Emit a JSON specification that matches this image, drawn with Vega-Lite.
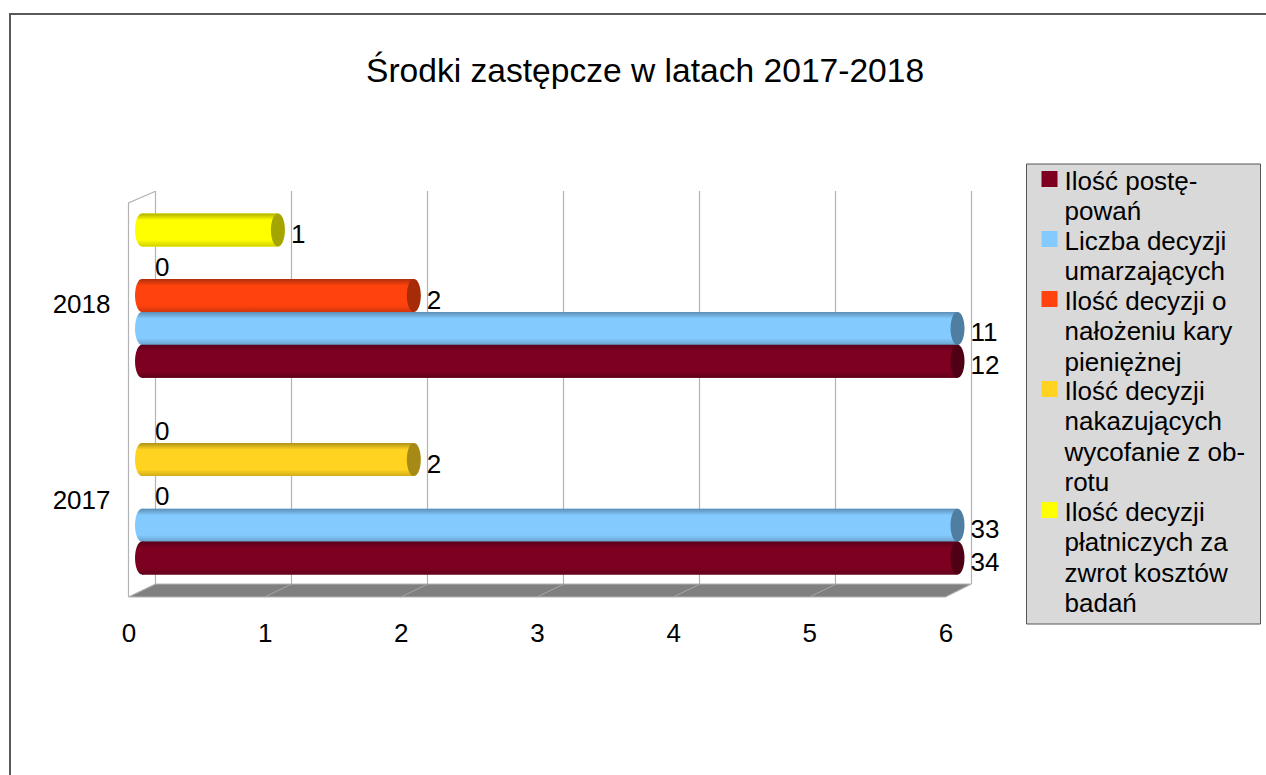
{
"$schema":"https://vega.github.io/schema/vega-lite/v6.json",
"width":1266,"height":775,"autosize":"none","padding":0,"background":"#ffffff",
"config":{"view":{"stroke":null},"font":"Liberation Sans"},
"title":{"text":"Środki zastępcze w latach 2017-2018","font":"Liberation Sans","fontSize":33.6,"fontWeight":"normal","color":"#000000","anchor":"start","frame":"group","dx":366,"dy":127,"baseline":"bottom"},
"data":{"values":[
{"rok":"2018","seria":"Ilość decyzji płatniczych za zwrot kosztów badań","wartosc":1,"slot":"2018-5"},
{"rok":"2018","seria":"Ilość decyzji nakazujących wycofanie z obrotu","wartosc":0,"slot":"2018-4"},
{"rok":"2018","seria":"Ilość decyzji o nałożeniu kary pieniężnej","wartosc":2,"slot":"2018-3"},
{"rok":"2018","seria":"Liczba decyzji umarzających","wartosc":11,"slot":"2018-2"},
{"rok":"2018","seria":"Ilość postępowań","wartosc":12,"slot":"2018-1"},
{"rok":"2017","seria":"Ilość decyzji płatniczych za zwrot kosztów badań","wartosc":0,"slot":"2017-5"},
{"rok":"2017","seria":"Ilość decyzji nakazujących wycofanie z obrotu","wartosc":2,"slot":"2017-4"},
{"rok":"2017","seria":"Ilość decyzji o nałożeniu kary pieniężnej","wartosc":0,"slot":"2017-3"},
{"rok":"2017","seria":"Liczba decyzji umarzających","wartosc":33,"slot":"2017-2"},
{"rok":"2017","seria":"Ilość postępowań","wartosc":34,"slot":"2017-1"}
]},
"resolve":{"scale":{"x":"independent","y":"independent","fill":"independent"},"axis":{"x":"independent","y":"independent"},"legend":{"fill":"independent"}},
"layer":[
{"data":{"values":[{"ramka":"wykres"}]},
 "mark":{"type":"rect","fill":"transparent","stroke":"#595959","strokeWidth":2},
 "encoding":{"x":{"datum":0,"type":"quantitative","scale":{"domain":[0,1],"range":[10,1400]},"axis":null},"x2":{"datum":1},
 "y":{"datum":0,"type":"quantitative","scale":{"domain":[0,1],"range":[14,900]},"axis":null},"y2":{"datum":1}}},
{"data":{"values":[{"ramka":"legenda"}]},
 "mark":{"type":"rect","fill":"#d9d9d9","stroke":"#555555","strokeWidth":1},
 "encoding":{"x":{"datum":0,"type":"quantitative","scale":{"domain":[0,1],"range":[1026.5,1260.5]},"axis":null},"x2":{"datum":1},
 "y":{"datum":0,"type":"quantitative","scale":{"domain":[0,1],"range":[164,624]},"axis":null},"y2":{"datum":1}}},
{"data":{"values":[{"v":0},{"v":1},{"v":2},{"v":3},{"v":4},{"v":5},{"v":6}]},
 "mark":{"type":"rule","stroke":"#b3b3b3","strokeWidth":1.2},
 "encoding":{"x":{"field":"v","type":"quantitative","scale":{"domain":[0,6],"range":[155.5,971.5]},"axis":null},
 "y":{"datum":0,"type":"quantitative","scale":{"domain":[0,1],"range":[584,191]},"axis":null},"y2":{"datum":1}}},
{"data":{"values":[{"v":0,"w":0},{"v":0,"w":1},{"v":0.198,"w":1.03}]},
 "mark":{"type":"line","stroke":"#b3b3b3","strokeWidth":1.2},
 "encoding":{"x":{"field":"v","type":"quantitative","scale":{"domain":[0,6],"range":[128.5,945.5]},
 "axis":{"orient":"bottom","offset":-155,"values":[0,1,2,3,4,5,6],"format":"d","domain":false,"ticks":false,"grid":false,"title":null,"labelFont":"Liberation Sans","labelFontSize":26,"labelColor":"#000000","labelPadding":0,"labelFlush":false,"labelOverlap":false,"labelBaseline":"top"}},
 "y":{"field":"w","type":"quantitative","scale":{"domain":[0,1],"range":[597,203]},"axis":null}}},
{"data":{"values":[{"v":0,"g":0,"d":0},{"v":0.198,"g":0.033,"d":0},{"v":6,"g":0.033,"d":0},{"v":6.19,"g":0.033,"d":0.033}]},
 "mark":{"type":"area","fill":"#808080","stroke":"#b3b3b3","strokeWidth":1.2},
 "encoding":{"x":{"field":"v","type":"quantitative","scale":{"domain":[0,6],"range":[128.5,945.5]},"axis":null},
 "y":{"field":"g","type":"quantitative","scale":{"domain":[0,1],"range":[597,203]},"axis":null},"y2":{"field":"d"}}},
{"data":{"values":[{"v":1,"k":1.198},{"v":2,"k":2.198},{"v":3,"k":3.198},{"v":4,"k":4.198},{"v":5,"k":5.198}]},
 "mark":{"type":"rule","stroke":"#a6a6a6","strokeWidth":1},
 "encoding":{"x":{"field":"v","type":"quantitative","scale":{"domain":[0,6],"range":[128.5,945.5]},"axis":null},"x2":{"field":"k"},
 "y":{"datum":0,"type":"quantitative","scale":{"domain":[0,1],"range":[597,203]},"axis":null},"y2":{"datum":0.033}}},
{"data":{"values":[{"rok":"2018"},{"rok":"2017"}]},
 "mark":{"type":"point","opacity":0},
 "encoding":{"y":{"field":"rok","type":"nominal","scale":{"type":"point","padding":0,"domain":["2018","2017"],"range":[304,500]},
 "axis":{"orient":"left","offset":-110,"domain":false,"ticks":false,"grid":false,"title":null,"labelFont":"Liberation Sans","labelFontSize":26,"labelColor":"#000000","labelPadding":0,"labelBaseline":"middle"}}}},
{"transform":[{"filter":"datum.wartosc>0"}],
 "mark":{"type":"bar","size":33},
 "encoding":{"x":{"field":"wartosc","type":"quantitative","stack":null,"scale":{"domain":[0,6],"range":[142,957.5],"clamp":true},"axis":null},
 "y":{"field":"slot","type":"nominal","scale":{"type":"point","padding":0,"domain":["2018-5","2018-4","2018-3","2018-2","2018-1","przerwa","2017-5","2017-4","2017-3","2017-2","2017-1"],"range":[230,558]},"axis":null},
 "fill":{"field":"seria","type":"nominal","scale":{"domain":["Ilość postępowań","Liczba decyzji umarzających","Ilość decyzji o nałożeniu kary pieniężnej","Ilość decyzji nakazujących wycofanie z obrotu","Ilość decyzji płatniczych za zwrot kosztów badań"],"range":["#7e0021","#83caff","#ff420e","#ffd320","#ffff00"]},
 "legend":{"orient":"none","legendX":1036.5,"legendY":166,"title":null,"padding":0,"rowPadding":-7,"symbolType":"square","symbolSize":256,"symbolStrokeWidth":0,"labelFont":"Liberation Sans","labelFontSize":26,"labelColor":"#000000","labelOffset":2,"labelLimit":400,"labelBaseline":"top",
 "labelExpr":"{'Ilość postępowań':['Ilość postę-','powań'],'Liczba decyzji umarzających':['Liczba decyzji','umarzających'],'Ilość decyzji o nałożeniu kary pieniężnej':['Ilość decyzji o','nałożeniu kary','pieniężnej'],'Ilość decyzji nakazujących wycofanie z obrotu':['Ilość decyzji','nakazujących','wycofanie z ob-','rotu'],'Ilość decyzji płatniczych za zwrot kosztów badań':['Ilość decyzji','płatniczych za','zwrot kosztów','badań']}[datum.label]",
 "encode":{"labels":{"update":{"lineHeight":{"value":30.4},"dy":{"value":-10}}}}}}}},
{"transform":[{"filter":"datum.wartosc>0 && datum.seria=='Ilość decyzji płatniczych za zwrot kosztów badań'"}],
 "encoding":{"y":{"field":"slot","type":"nominal","scale":{"type":"point","padding":0,"domain":["2018-5","2018-4","2018-3","2018-2","2018-1","przerwa","2017-5","2017-4","2017-3","2017-2","2017-1"],"range":[230,558]},"axis":null}},
 "layer":[
 {"mark":{"type":"bar","size":33,"fill":{"gradient":"linear","x1":0,"y1":0,"x2":0,"y2":1,"stops":[{"offset":0,"color":"#b0b000"},{"offset":0.2,"color":"#ffff00"},{"offset":0.8,"color":"#ffff00"},{"offset":1,"color":"#d0d000"}]}},
  "encoding":{"x":{"field":"wartosc","type":"quantitative","stack":null,"scale":{"domain":[0,6],"range":[142,957.5],"clamp":true},"axis":null}}},
 {"mark":{"type":"point","filled":true,"opacity":1,"size":1089,"shape":"M0,-1A0.424,1,0,1,1,0,1A0.424,1,0,1,1,0,-1Z","fill":{"gradient":"linear","x1":0,"y1":0,"x2":0,"y2":1,"stops":[{"offset":0,"color":"#b0b000"},{"offset":0.2,"color":"#ffff00"},{"offset":0.8,"color":"#ffff00"},{"offset":1,"color":"#d0d000"}]}},
  "encoding":{"x":{"datum":0,"type":"quantitative","scale":{"domain":[0,6],"range":[142,957.5],"clamp":true},"axis":null}}}
 ]},
{"transform":[{"filter":"datum.wartosc>0 && datum.seria=='Ilość decyzji nakazujących wycofanie z obrotu'"}],
 "encoding":{"y":{"field":"slot","type":"nominal","scale":{"type":"point","padding":0,"domain":["2018-5","2018-4","2018-3","2018-2","2018-1","przerwa","2017-5","2017-4","2017-3","2017-2","2017-1"],"range":[230,558]},"axis":null}},
 "layer":[
 {"mark":{"type":"bar","size":33,"fill":{"gradient":"linear","x1":0,"y1":0,"x2":0,"y2":1,"stops":[{"offset":0,"color":"#b09216"},{"offset":0.2,"color":"#ffd320"},{"offset":0.8,"color":"#ffd320"},{"offset":1,"color":"#d0ac1a"}]}},
  "encoding":{"x":{"field":"wartosc","type":"quantitative","stack":null,"scale":{"domain":[0,6],"range":[142,957.5],"clamp":true},"axis":null}}},
 {"mark":{"type":"point","filled":true,"opacity":1,"size":1089,"shape":"M0,-1A0.424,1,0,1,1,0,1A0.424,1,0,1,1,0,-1Z","fill":{"gradient":"linear","x1":0,"y1":0,"x2":0,"y2":1,"stops":[{"offset":0,"color":"#b09216"},{"offset":0.2,"color":"#ffd320"},{"offset":0.8,"color":"#ffd320"},{"offset":1,"color":"#d0ac1a"}]}},
  "encoding":{"x":{"datum":0,"type":"quantitative","scale":{"domain":[0,6],"range":[142,957.5],"clamp":true},"axis":null}}}
 ]},
{"transform":[{"filter":"datum.wartosc>0 && datum.seria=='Ilość decyzji o nałożeniu kary pieniężnej'"}],
 "encoding":{"y":{"field":"slot","type":"nominal","scale":{"type":"point","padding":0,"domain":["2018-5","2018-4","2018-3","2018-2","2018-1","przerwa","2017-5","2017-4","2017-3","2017-2","2017-1"],"range":[230,558]},"axis":null}},
 "layer":[
 {"mark":{"type":"bar","size":33,"fill":{"gradient":"linear","x1":0,"y1":0,"x2":0,"y2":1,"stops":[{"offset":0,"color":"#b02e0a"},{"offset":0.2,"color":"#ff420e"},{"offset":0.8,"color":"#ff420e"},{"offset":1,"color":"#d0360c"}]}},
  "encoding":{"x":{"field":"wartosc","type":"quantitative","stack":null,"scale":{"domain":[0,6],"range":[142,957.5],"clamp":true},"axis":null}}},
 {"mark":{"type":"point","filled":true,"opacity":1,"size":1089,"shape":"M0,-1A0.424,1,0,1,1,0,1A0.424,1,0,1,1,0,-1Z","fill":{"gradient":"linear","x1":0,"y1":0,"x2":0,"y2":1,"stops":[{"offset":0,"color":"#b02e0a"},{"offset":0.2,"color":"#ff420e"},{"offset":0.8,"color":"#ff420e"},{"offset":1,"color":"#d0360c"}]}},
  "encoding":{"x":{"datum":0,"type":"quantitative","scale":{"domain":[0,6],"range":[142,957.5],"clamp":true},"axis":null}}}
 ]},
{"transform":[{"filter":"datum.wartosc>0 && datum.seria=='Liczba decyzji umarzających'"}],
 "encoding":{"y":{"field":"slot","type":"nominal","scale":{"type":"point","padding":0,"domain":["2018-5","2018-4","2018-3","2018-2","2018-1","przerwa","2017-5","2017-4","2017-3","2017-2","2017-1"],"range":[230,558]},"axis":null}},
 "layer":[
 {"mark":{"type":"bar","size":33,"fill":{"gradient":"linear","x1":0,"y1":0,"x2":0,"y2":1,"stops":[{"offset":0,"color":"#5c8db2"},{"offset":0.2,"color":"#83caff"},{"offset":0.8,"color":"#83caff"},{"offset":1,"color":"#6aa3cc"}]}},
  "encoding":{"x":{"field":"wartosc","type":"quantitative","stack":null,"scale":{"domain":[0,6],"range":[142,957.5],"clamp":true},"axis":null}}},
 {"mark":{"type":"point","filled":true,"opacity":1,"size":1089,"shape":"M0,-1A0.424,1,0,1,1,0,1A0.424,1,0,1,1,0,-1Z","fill":{"gradient":"linear","x1":0,"y1":0,"x2":0,"y2":1,"stops":[{"offset":0,"color":"#5c8db2"},{"offset":0.2,"color":"#83caff"},{"offset":0.8,"color":"#83caff"},{"offset":1,"color":"#6aa3cc"}]}},
  "encoding":{"x":{"datum":0,"type":"quantitative","scale":{"domain":[0,6],"range":[142,957.5],"clamp":true},"axis":null}}}
 ]},
{"transform":[{"filter":"datum.wartosc>0 && datum.seria=='Ilość postępowań'"}],
 "encoding":{"y":{"field":"slot","type":"nominal","scale":{"type":"point","padding":0,"domain":["2018-5","2018-4","2018-3","2018-2","2018-1","przerwa","2017-5","2017-4","2017-3","2017-2","2017-1"],"range":[230,558]},"axis":null}},
 "layer":[
 {"mark":{"type":"bar","size":33,"fill":{"gradient":"linear","x1":0,"y1":0,"x2":0,"y2":1,"stops":[{"offset":0,"color":"#55001a"},{"offset":0.2,"color":"#7e0021"},{"offset":0.8,"color":"#7e0021"},{"offset":1,"color":"#5f0019"}]}},
  "encoding":{"x":{"field":"wartosc","type":"quantitative","stack":null,"scale":{"domain":[0,6],"range":[142,957.5],"clamp":true},"axis":null}}},
 {"mark":{"type":"point","filled":true,"opacity":1,"size":1089,"shape":"M0,-1A0.424,1,0,1,1,0,1A0.424,1,0,1,1,0,-1Z","fill":{"gradient":"linear","x1":0,"y1":0,"x2":0,"y2":1,"stops":[{"offset":0,"color":"#55001a"},{"offset":0.2,"color":"#7e0021"},{"offset":0.8,"color":"#7e0021"},{"offset":1,"color":"#5f0019"}]}},
  "encoding":{"x":{"datum":0,"type":"quantitative","scale":{"domain":[0,6],"range":[142,957.5],"clamp":true},"axis":null}}}
 ]},
{"transform":[{"filter":"datum.wartosc>0"}],
 "mark":{"type":"point","filled":true,"opacity":1,"size":1089,"shape":"M0,-1A0.424,1,0,1,1,0,1A0.424,1,0,1,1,0,-1Z"},
 "encoding":{"x":{"field":"wartosc","type":"quantitative","scale":{"domain":[0,6],"range":[142,957.5],"clamp":true},"axis":null},
 "y":{"field":"slot","type":"nominal","scale":{"type":"point","padding":0,"domain":["2018-5","2018-4","2018-3","2018-2","2018-1","przerwa","2017-5","2017-4","2017-3","2017-2","2017-1"],"range":[230,558]},"axis":null},
 "fill":{"field":"seria","type":"nominal","legend":null,"scale":{"domain":["Ilość postępowań","Liczba decyzji umarzających","Ilość decyzji o nałożeniu kary pieniężnej","Ilość decyzji nakazujących wycofanie z obrotu","Ilość decyzji płatniczych za zwrot kosztów badań"],"range":["#4f0015","#4f7ea1","#a52b09","#a58a15","#a5a500"]}}}},
{"mark":{"type":"text","font":"Liberation Sans","fontSize":26,"color":"#000000","align":"left","baseline":"middle","dx":13,"dy":5},
 "encoding":{"x":{"field":"wartosc","type":"quantitative","scale":{"domain":[0,6],"range":[142,957.5],"clamp":true},"axis":null},
 "y":{"field":"slot","type":"nominal","scale":{"type":"point","padding":0,"domain":["2018-5","2018-4","2018-3","2018-2","2018-1","przerwa","2017-5","2017-4","2017-3","2017-2","2017-1"],"range":[230,558]},"axis":null},
 "text":{"field":"wartosc","type":"quantitative"}}}
]
}
